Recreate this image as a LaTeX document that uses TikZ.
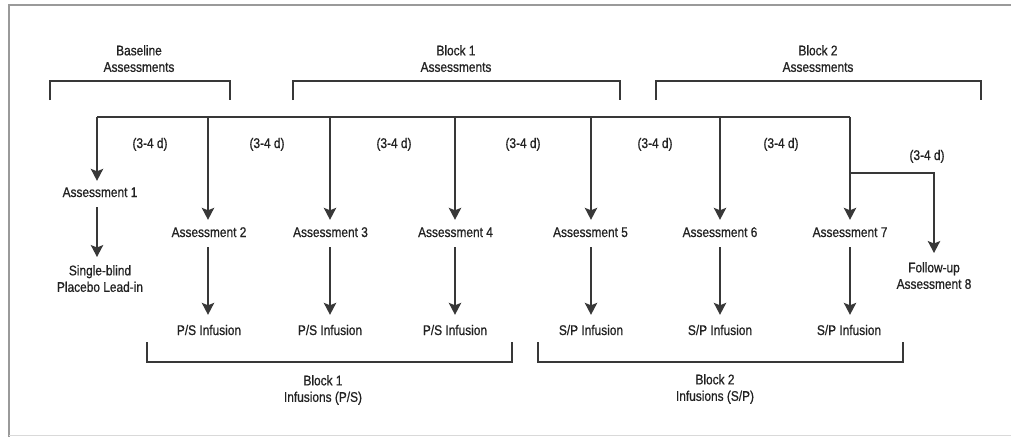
\documentclass[tikz,border=0pt]{standalone}
\usepackage{fontspec}
\setmainfont{Liberation Sans}[FakeStretch=0.85,FakeBold=0.8]
\usetikzlibrary{arrows.meta}
\definecolor{ln}{HTML}{383838}
\definecolor{tx}{HTML}{222222}
\definecolor{fr}{HTML}{9A9A9A}
\tikzset{
  lbl/.style={font=\fontsize{14}{16.5}\selectfont, text=tx, inner sep=0pt, text height=10pt, text depth=0pt},
  mlbl/.style={font=\fontsize{14}{16.5}\selectfont, text=tx, inner sep=0pt, align=center, anchor=north},
  wire/.style={draw=ln, line width=1.4pt},
  arr/.style={wire, -{Stealth[length=12pt,width=12.5pt,inset=2.5pt]}},
  brk/.style={draw=ln, line width=1.3pt},
}
\begin{document}
\begin{tikzpicture}[x=1pt,y=-1pt]
\useasboundingbox (0,0) rectangle (1011,437);
% frame
\draw[fr, line width=1.8pt] (1011,5) -- (9,5) -- (9,437);
\draw[black!15, line width=1pt] (9,435.5) -- (1011,435.5);

% top labels and brackets
\node[mlbl] (bl)  at (139,45) {Baseline\\Assessments};
\node[mlbl] (b1a) at (456,45) {Block 1\\Assessments};
\node[mlbl] (b2a) at (818,45) {Block 2\\Assessments};
\draw[brk] (50,100) -- (50,81) -- (230,81) -- (230,100);
\draw[brk] (293,100) -- (293,81) -- (620,81) -- (620,100);
\draw[brk] (656,100) -- (656,81) -- (981,81) -- (981,100);

% main timeline
\coordinate (c1) at (97,117);
\coordinate (c2) at (208,117);
\coordinate (c3) at (330,117);
\coordinate (c4) at (455,117);
\coordinate (c5) at (591,117);
\coordinate (c6) at (720,117);
\coordinate (c7) at (850,117);
\draw[wire] (c1) -- (c7);

% interval labels
\node[lbl] (d1) at (150,143) {(3-4 d)};
\node[lbl] (d2) at (267,143) {(3-4 d)};
\node[lbl] (d3) at (394,143) {(3-4 d)};
\node[lbl] (d4) at (523,143) {(3-4 d)};
\node[lbl] (d5) at (655,143) {(3-4 d)};
\node[lbl] (d6) at (781,143) {(3-4 d)};
\node[lbl] (d7) at (927,155) {(3-4 d)};

% assessments
\node[lbl] (a1) at (100,192) {Assessment 1};
\node[lbl] (a2) at (209,232) {Assessment 2};
\node[lbl] (a3) at (330.5,232) {Assessment 3};
\node[lbl] (a4) at (455.5,232) {Assessment 4};
\node[lbl] (a5) at (590.5,232) {Assessment 5};
\node[lbl] (a6) at (720,232) {Assessment 6};
\node[lbl] (a7) at (850,232) {Assessment 7};
\node[mlbl] (sb) at (100,265) {Single-blind\\Placebo Lead-in};
\node[mlbl] (fu) at (934,262) {Follow-up\\Assessment 8};

% infusions
\node[lbl] (p2) at (209,330) {P/S Infusion};
\node[lbl] (p3) at (330,330) {P/S Infusion};
\node[lbl] (p4) at (455,330) {P/S Infusion};
\node[lbl] (p5) at (591,330) {S/P Infusion};
\node[lbl] (p6) at (720,330) {S/P Infusion};
\node[lbl] (p7) at (849,330) {S/P Infusion};

% arrows from timeline
\draw[arr, shorten >=6pt] (c1) -- (c1 |- a1.north);
\draw[arr, shorten >=7pt] (c2) -- (c2 |- a2.north);
\draw[arr, shorten >=7pt] (c3) -- (c3 |- a3.north);
\draw[arr, shorten >=7pt] (c4) -- (c4 |- a4.north);
\draw[arr, shorten >=7pt] (c5) -- (c5 |- a5.north);
\draw[arr, shorten >=7pt] (c6) -- (c6 |- a6.north);
\draw[arr, shorten >=7pt] (c7) -- (c7 |- a7.north);

% follow-up branch
\coordinate (f) at (850,173);
\draw[arr, shorten >=9pt] (f) -| (fu.north);

% assessment to lead-in / infusions
\draw[arr, shorten <=10pt, shorten >=8pt] (a1.south -| c1) -- (sb.north -| c1);
\draw[arr, shorten <=10pt, shorten >=10pt] (a2.south -| c2) -- (p2.north -| c2);
\draw[arr, shorten <=10pt, shorten >=10pt] (a3.south -| c3) -- (p3.north -| c3);
\draw[arr, shorten <=10pt, shorten >=10pt] (a4.south -| c4) -- (p4.north -| c4);
\draw[arr, shorten <=10pt, shorten >=10pt] (a5.south -| c5) -- (p5.north -| c5);
\draw[arr, shorten <=10pt, shorten >=10pt] (a6.south -| c6) -- (p6.north -| c6);
\draw[arr, shorten <=10pt, shorten >=10pt] (a7.south -| c7) -- (p7.north -| c7);

% bottom brackets and labels
\draw[brk] (147,342) -- (147,362) -- (512,362) -- (512,342);
\draw[brk] (538,342) -- (538,362) -- (903,362) -- (903,342);
\node[mlbl] (ib1) at (323,375) {Block 1\\Infusions (P/S)};
\node[mlbl] (ib2) at (715,374) {Block 2\\Infusions (S/P)};
\end{tikzpicture}
\end{document}
